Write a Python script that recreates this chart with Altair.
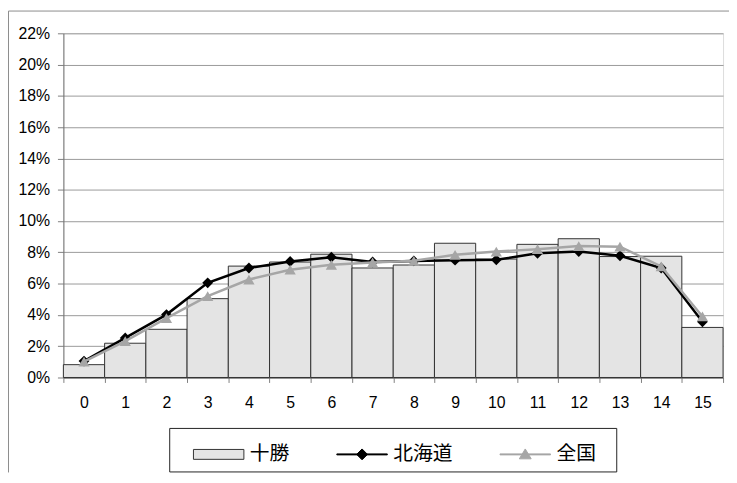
import altair as alt
import pandas as pd

# ---- data ----
categories = list(range(16))
series_names = ["十勝", "北海道", "全国"]
tokachi = [0.82, 2.19, 3.08, 5.04, 7.12, 7.38, 7.88, 7.00, 7.19, 8.58, 7.57, 8.51, 8.87, 7.73, 7.75, 3.20]
hokkaido = [1.05, 2.53, 4.02, 6.05, 7.00, 7.42, 7.69, 7.38, 7.45, 7.50, 7.52, 7.94, 8.05, 7.78, 7.00, 3.56]
zenkoku = [1.01, 2.32, 3.79, 5.20, 6.26, 6.89, 7.20, 7.35, 7.46, 7.84, 8.05, 8.20, 8.40, 8.36, 7.10, 3.90]
y_ticks = [0, 0.02, 0.04, 0.06, 0.08, 0.10, 0.12, 0.14, 0.16, 0.18, 0.20, 0.22]

# ---- styles ----
bar_fill = "#e4e4e4"
bar_stroke = "#333333"
hok_color = "#000000"
zen_color = "#a6a6a6"
legend_paths = [
    "M-2.55,-0.5H2.55V0.5H-2.55Z",
    "M-2.55,-0.05H2.55V0.05H-2.55Z M0,-0.55L0.55,0L0,0.55L-0.55,0Z",
    "M-2.55,-0.05H2.55V0.05H-2.55Z M0,-0.55L0.6,0.45L-0.6,0.45Z",
]

rows = []
for name, vals in zip(series_names, [tokachi, hokkaido, zenkoku]):
    for c, v in zip(categories, vals):
        rows.append({"cat": c, "series": name, "value": v / 100.0})
df = pd.DataFrame(rows)

W, H = 667, 348

x_enc = alt.X(
    "cat:O",
    scale=alt.Scale(paddingInner=0, paddingOuter=0),
    axis=alt.Axis(title=None, labelAngle=0, tickBand="extent", tickSize=5,
                  labelPadding=12, tickColor="#808080", domainColor="#606060",
                  labelFont="Liberation Sans", labelFontSize=16, labelColor="#000"),
)
y_enc = alt.Y(
    "value:Q",
    scale=alt.Scale(domain=[0, 0.22], nice=False),
    axis=alt.Axis(title=None, format=".0%", values=y_ticks, tickSize=6, labelPadding=8,
                  tickColor="#808080", domainColor="#707070", gridColor="#9a9a9a",
                  labelFont="Liberation Sans", labelFontSize=16, labelColor="#000"),
)

base = alt.Chart(df)

bars = base.transform_filter(alt.datum.series == "十勝").mark_bar(
    fill=bar_fill, stroke=bar_stroke, strokeWidth=1
).encode(x=x_enc, y=y_enc)

hok = base.transform_filter(alt.datum.series == "北海道")
zen = base.transform_filter(alt.datum.series == "全国")

hok_line = hok.mark_line(color=hok_color, strokeWidth=2.5).encode(x=x_enc, y=y_enc)
hok_pts = hok.mark_point(shape="diamond", filled=True, color=hok_color, size=120, opacity=1).encode(x=x_enc, y=y_enc)
zen_line = zen.mark_line(color=zen_color, strokeWidth=2.5).encode(x=x_enc, y=y_enc)
zen_pts = zen.mark_point(shape="triangle-up", filled=True, color=zen_color, size=130, opacity=1).encode(x=x_enc, y=y_enc)

leg = alt.Legend(
    title=None, orient="none", legendX=131, legendY=415, direction="horizontal",
    columnPadding=45, symbolOffset=15.5, labelOffset=21, symbolSize=400,
    symbolStrokeWidth=1, symbolOpacity=1, padding=0,
    labelFont="Noto Sans CJK JP", labelFontSize=20, labelColor="#000",
)

legend_src = base.mark_point(filled=True, opacity=0).encode(
    x=x_enc, y=y_enc,
    fill=alt.Fill("series:N", scale=alt.Scale(domain=series_names, range=[bar_fill, hok_color, zen_color]), legend=leg),
    stroke=alt.Stroke("series:N", scale=alt.Scale(domain=series_names, range=[bar_stroke, hok_color, zen_color]), legend=leg),
    shape=alt.Shape("series:N", scale=alt.Scale(domain=series_names, range=legend_paths), legend=leg),
)

one = alt.Chart(pd.DataFrame({"k": [0]}))
legend_box = one.mark_rect(fill="white", stroke="#222222", strokeWidth=1).encode(
    x=alt.value(107.5), x2=alt.value(559.5), y=alt.value(399.5), y2=alt.value(443.5)
)
frame_left = one.mark_rule(color="#8c8c8c", strokeWidth=1).encode(
    x=alt.value(-55.5), y=alt.value(-22.5), y2=alt.value(444)
)
frame_top = one.mark_rule(color="#8c8c8c", strokeWidth=1).encode(
    x=alt.value(-55.5), x2=alt.value(673), y=alt.value(-22.5)
)

chart = alt.layer(
    frame_left, frame_top, legend_box, bars, hok_line, hok_pts, zen_line, zen_pts, legend_src
).properties(
    width=W, height=H,
    autosize=alt.AutoSizeParams(type="none"),
    padding={"left": 56, "top": 23, "right": 6, "bottom": 96},
).configure_view(
    stroke="#333333", strokeWidth=1
).configure(background="white")

chart.save("out.html", embed_options={"renderer": "svg", "actions": False})
